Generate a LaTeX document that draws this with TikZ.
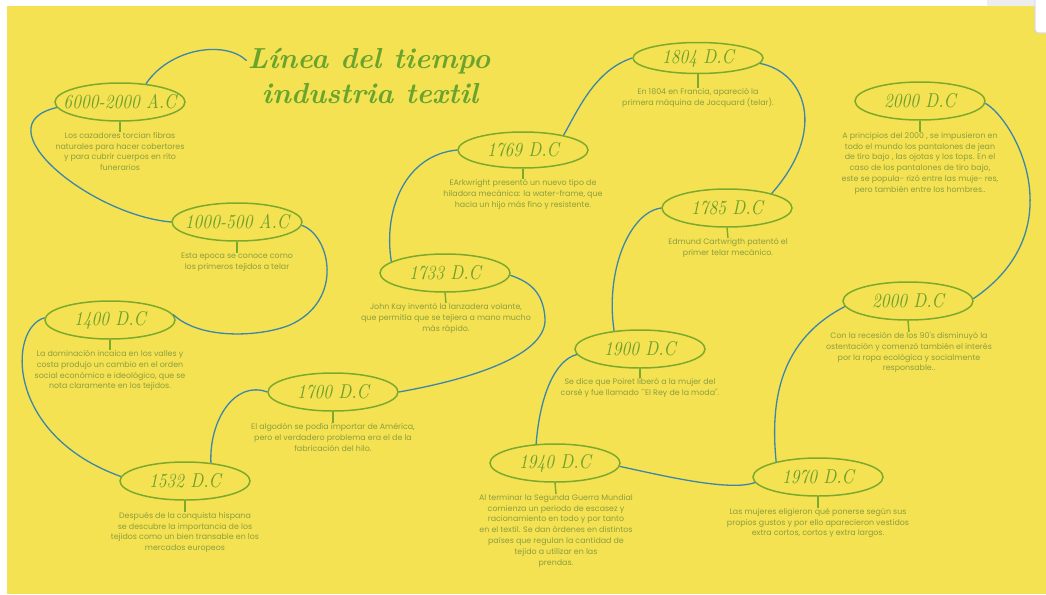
\documentclass[tikz,border=0pt]{standalone}
\usepackage{fontspec}
\newfontfamily\descfont{Poppins}
\newfontfamily\yrfont[FakeStretch=0.86]{lmroman10-italic.otf}
\usetikzlibrary{shapes.geometric}
\definecolor{bgyellow}{HTML}{F4E253}
\definecolor{elgreen}{HTML}{7DAA2C}
\definecolor{yrgreen}{HTML}{6FA02B}
\definecolor{txtolive}{HTML}{8C9E3C}
\definecolor{linkblue}{HTML}{3C87A8}
\definecolor{titlegreen}{HTML}{6AA42C}
\begin{document}
\begin{tikzpicture}[x=1pt,y=-1pt,
  ev/.style={ellipse, draw=elgreen, line width=1.5pt, minimum width=130pt, minimum height=38pt,
    inner sep=0pt, text=yrgreen, font=\yrfont\fontsize{20}{23}\selectfont},
  desc/.style={anchor=north, align=center, inner sep=0pt, text=txtolive,
    font=\descfont\fontsize{7.9}{10.8}\selectfont},
  stem/.style={draw=elgreen, line width=1.4pt},
  link/.style={draw=linkblue, line width=1.3pt},
  ttl/.style={anchor=base, inner sep=1pt, text=titlegreen, font=\fontsize{29}{32}\selectfont\bfseries\itshape}
]
\useasboundingbox (0,0) rectangle (1046,594);
\fill[white] (0,0) rectangle (1046,594);
\fill[bgyellow] (7,6) rectangle (1046,594);
\fill[black!7] (987,0) rectangle (1046,6);
\draw[blue!15, fill=white, line width=1pt, rounded corners=4pt] (1035,-6) rectangle (1056,33);

% title
\node[ttl] (t1) at (369,68) {Línea del tiempo};
\node[ttl] (t2) at (370,103) {industria textil};

% ellipses
\node[ev] (e1) at (120,102) {\makebox[0pt]{6000-2000 A.C}};
\node[ev] (e2) at (237,222) {\makebox[0pt]{1000-500 A.C}};
\node[ev] (e3) at (110,320) {\makebox[0pt]{1400 D.C}};
\node[ev] (e4) at (185,481) {\makebox[0pt]{1532 D.C}};
\node[ev] (e5) at (333,392) {\makebox[0pt]{1700 D.C}};
\node[ev] (e6) at (445,273) {\makebox[0pt]{1733 D.C}};
\node[ev, minimum height=36pt] (e7) at (523,150) {\makebox[0pt]{1769 D.C}};
\node[ev, minimum height=31pt] (e8) at (698,58) {\makebox[0pt]{1804 D.C}};
\node[ev] (e9) at (727,208) {\makebox[0pt]{1785 D.C}};
\node[ev] (e10) at (640,349) {\makebox[0pt]{1900 D.C}};
\node[ev] (e11) at (555,463) {\makebox[0pt]{1940 D.C}};
\node[ev] (e12) at (818,477) {\makebox[0pt]{1970 D.C}};
\node[ev] (e13) at (908,301) {\makebox[0pt]{2000 D.C}};
\node[ev] (e14) at (920,101) {\makebox[0pt]{2000 D.C}};

% descriptions
\node[desc] (d1) at (120,132) {Los cazadores torcian fibras\\naturales para hacer cobertores\\y para cubrir cuerpos en rito\\funerarios};
\node[desc] (d2) at (237,253) {Esta epoca se conoce como\\los primeros tejidos a telar};
\node[desc] (d3) at (110,350) {La dominación incaica en los valles y\\costa produjo un cambio en el orden\\social económico e ideológico, que se\\nota claramente en los tejidos.};
\node[desc] (d4) at (185,512) {Después de la conquista hispana\\se descubre la importancia de los\\tejidos como un bien transable en los\\mercados europeos};
\node[desc] (d5) at (333,423) {El algodón se podía importar de América,\\pero el verdadero problema era el de la\\fabricación del hilo.};
\node[desc] (d6) at (446,303) {John Kay inventó la lanzadera volante,\\que permitía que se tejiera a mano mucho\\más rápido.};
\node[desc] (d7) at (523,179) {EArkwright presentó un nuevo tipo de\\hiladora mecánica: la water-frame, que\\hacia un hijo más fino y resistente.};
\node[desc] (d8) at (698,88) {En 1804 en Francia, apareció la\\primera máquina de Jacquard (telar).};
\node[desc] (d9) at (728,238) {Edmund Cartwrigth patentó el\\primer telar mecánico.};
\node[desc] (d10) at (640,378) {Se dice que Poiret liberó a la mujer del\\corsé y fue llamado ``El Rey de la moda''.};
\node[desc] (d11) at (556,494) {Al terminar la Segunda Guerra Mundial\\comienza un periodo de escasez y\\racionamiento en todo y por tanto\\en el textil. Se dan órdenes en distintos\\países que regulan la cantidad de\\tejido a utilizar en las\\prendas.};
\node[desc] (d12) at (818,508) {Las mujeres eligieron qué ponerse según sus\\propios gustos y por ello aparecieron vestidos\\extra cortos, cortos y extra largos.};
\node[desc] (d13) at (909,332) {Con la recesión de los 90's disminuyó la\\ostentación y comenzó también el interés\\por la ropa ecológica y socialmente\\responsable..};
\node[desc] (d14) at (920,132) {A principios del 2000 , se impusieron en\\todo el mundo los pantalones de jean\\de tiro bajo , las ojotas y los tops. En el\\caso de los pantalones de tiro bajo,\\este se popula- rizó entre las muje- res,\\pero también entre los hombres..};

% stems
\foreach \i in {1,...,14} {\draw[stem] (e\i.south) -- (d\i.north);}

% connectors
\draw[link] (e1.35) .. controls (170,48) and (225,40) .. (t1.west);
\draw[link] (e1.185) .. controls (-20,125) and (90,215) .. (e2.180);
\draw[link] (e2.-3) .. controls (330,235) and (345,300) .. (290,325) .. controls (260,337) and (200,340) .. (e3.5);
\draw[link] (e3.178) .. controls (8,328) and (5,435) .. (e4.176);
\draw[link] (e4.35) .. controls (209,420) and (235,380) .. (e5.180);
\draw[link] (e5.0) .. controls (450,383) and (548,360) .. (545,318) .. controls (543,292) and (530,282) .. (e6.-2);
\draw[link] (e6.168) .. controls (383,210) and (405,155) .. (e7.180);
\draw[link] (e7.20) .. controls (578,110) and (595,70) .. (e8.180);
\draw[link] (e8.-5) .. controls (805,72) and (828,130) .. (e9.18);
\draw[link] (e9.180) .. controls (630,212) and (605,270) .. (e10.145);
\draw[link] (e10.185) .. controls (555,360) and (540,395) .. (e11.135);
\draw[link] (e11.-3) .. controls (660,475) and (730,492) .. (e12.185);
\draw[link] (e12.160) .. controls (770,400) and (780,340) .. (e13.185);
\draw[link] (e13.2) .. controls (1075,230) and (1015,120) .. (e14.-2);
\end{tikzpicture}
\end{document}
